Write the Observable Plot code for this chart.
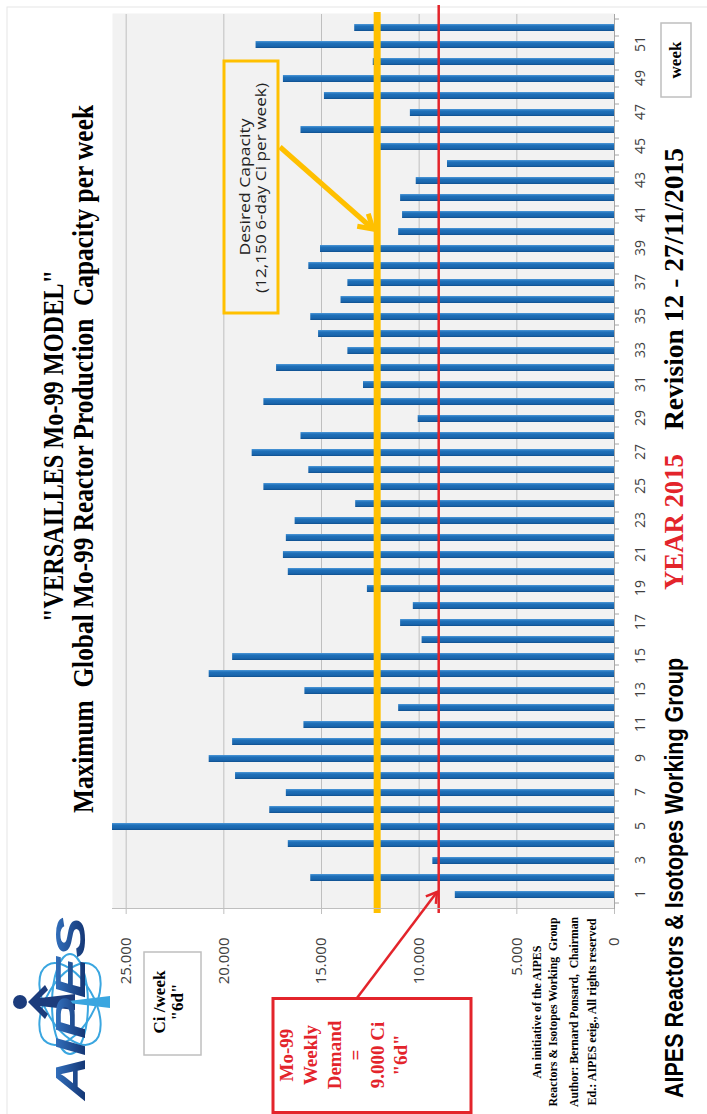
<!DOCTYPE html>
<html><head><meta charset="utf-8">
<script src="https://cdn.jsdelivr.net/npm/d3@7"></script>
<script src="https://cdn.jsdelivr.net/npm/@observablehq/plot@0.6"></script>
<style>
html,body{margin:0;padding:0;background:#fff;width:707px;height:1114px;overflow:hidden}
#wrap{position:absolute;left:0;top:0;width:1114px;height:707px;transform-origin:0 0;transform:translateY(1114px) rotate(-90deg)}
</style></head><body><div id="wrap"></div>
<script>
// ---- data ----
const weeks = d3.range(1, 53);
const capacity = [8150, 15550, 9300, 16700, 25700, 17650, 16800, 19400, 20750, 19550,
  15900, 11050, 15850, 20750, 19550, 9850, 10950, 10300, 12650, 16700,
  16950, 16800, 16350, 13250, 17950, 15650, 18550, 16050, 10050, 17950,
  12850, 17300, 13650, 15150, 15550, 14000, 13650, 15650, 15050, 11050,
  10850, 10950, 10150, 8550, 12250, 16050, 10450, 14850, 16950, 12350,
  18350, 13300];
const yTicks = [0, 5000, 10000, 15000, 20000, 25000];
const weekLabels = weeks.filter(w => w % 2 === 1);
const desiredCapacity = 12150;
const weeklyDemand = 9000;
const data = weeks.map((w, i) => ({week: w, value: capacity[i]}));

const fmt = d => d3.format(",")(d).replace(/,/g, ".");

const chart = Plot.plot({
  width: 1114, height: 707,
  marginLeft: 205, marginRight: 14, marginTop: 112, marginBottom: 93,
  style: {background: "transparent", fontFamily: "Open Sans"},
  x: {type: "band", domain: weeks, paddingInner: 0.6, paddingOuter: 0.3, axis: null},
  y: {domain: [0, 25700], axis: null},
  marks: [
    Plot.frame({fill: "#f2f2f2", stroke: "none"}),
    Plot.gridY(yTicks, {stroke: "#bfbfbf", strokeOpacity: 1, strokeWidth: 1, insetLeft: -5}),
    Plot.barY(data, {x: "week", y: "value", fill: "url(#barGrad)"}),
    Plot.ruleY([0], {stroke: "#a6a6a6", strokeWidth: 1}),
    Plot.ruleY([desiredCapacity], {stroke: "#FFC000", strokeWidth: 7, insetLeft: -4, insetRight: -2}),
    Plot.ruleY([weeklyDemand], {stroke: "#E3242B", strokeWidth: 2.5, insetLeft: -4, insetRight: -9}),
    Plot.axisY({ticks: yTicks, tickSize: 0, tickPadding: 29, tickFormat: fmt, fontSize: 15, fill: "#404040", label: null}),
    Plot.axisX({ticks: weekLabels, tickSize: 0, tickPadding: 21, fontSize: 14, fill: "#404040", label: null})
  ]
});
document.getElementById("wrap").appendChild(chart);

const svg = d3.select(chart);
const defs = svg.insert("defs", ":first-child");
const grad = defs.append("linearGradient").attr("id", "barGrad")
  .attr("x1", 0).attr("x2", 1).attr("y1", 0).attr("y2", 0);
[[0, "#0f4f8e"], [0.25, "#1a66ad"], [0.7, "#1f70b9"], [1, "#4d98d8"]].forEach(([o, c]) =>
  grad.append("stop").attr("offset", o).attr("stop-color", c));
const lg = defs.append("linearGradient").attr("id", "logoGrad")
  .attr("x1", 0).attr("x2", 0).attr("y1", 0).attr("y2", 1);
[[0, "#3a7fd0"], [1, "#0c2660"]].forEach(([o, c]) => lg.append("stop").attr("offset", o).attr("stop-color", c));

// outer faint frame
svg.insert("rect", ":first-child").attr("x", -5).attr("y", 7).attr("width", 1112).attr("height", 710)
  .attr("fill", "none").attr("stroke", "#e6e6e6");

// category axis tick marks at band boundaries
const xs = chart.scale("x");
const bw = xs.bandwidth, step = xs.step;
const yBase = 707 - 93;
const bounds = weeks.map(w => xs.apply(w) + bw / 2 - step / 2);
bounds.push(xs.apply(52) + bw / 2 + step / 2);
bounds.forEach(b => svg.append("line").attr("x1", b).attr("x2", b).attr("y1", yBase).attr("y2", yBase + 5)
  .attr("stroke", "#a6a6a6"));
// left border of plot
svg.append("line").attr("x1", 205.5).attr("x2", 205.5).attr("y1", 112).attr("y2", yBase)
  .attr("stroke", "#bfbfbf");

function txt(x, y, s, o = {}) {
  const t = svg.append("text").text(s)
    .attr("font-family", o.family || "Liberation Serif").attr("font-size", o.size || 12)
    .attr("font-weight", o.weight || "bold").attr("fill", o.fill || "#000")
    .attr("text-anchor", o.anchor || "middle");
  if (o.sy) t.attr("x", 0).attr("y", 0).attr("transform", `translate(${x},${y}) scale(1,${o.sy})`);
  else t.attr("x", x).attr("y", y);
  if (o.len) t.attr("textLength", o.len).attr("lengthAdjust", "spacingAndGlyphs");
  if (o.italic) t.attr("font-style", "italic");
  return t;
}
function arrow(x1, y1, x2, y2, color, w, head) {
  svg.append("line").attr("x1", x1).attr("y1", y1).attr("x2", x2).attr("y2", y2)
    .attr("stroke", color).attr("stroke-width", w);
  const a = Math.atan2(y2 - y1, x2 - x1);
  const p1 = [x2 - head * Math.cos(a - 0.55), y2 - head * Math.sin(a - 0.55)];
  const p2 = [x2 - head * Math.cos(a + 0.55), y2 - head * Math.sin(a + 0.55)];
  svg.append("path").attr("d", `M${p1}L${x2},${y2}L${p2}`).attr("fill", "none")
    .attr("stroke", color).attr("stroke-width", w).attr("stroke-linejoin", "miter");
}

// titles
txt(492, 63, "\"VERSAILLES Mo-99 MODEL\"", {size: 26, sy: 1.15, anchor: "start", len: 352});
txt(301, 93, "Maximum  Global Mo-99 Reactor Production  Capacity per week", {size: 25, sy: 1.2, anchor: "start", len: 708});

// bottom texts
txt(16, 683, "AIPES Reactors & Isotopes Working Group", {family: "Liberation Sans", size: 25, anchor: "start", len: 440});
txt(524, 683, "YEAR 2015", {size: 28, anchor: "start", len: 136, fill: "#E3242B"});
txt(684, 683, "Revision 12 - 27/11/2015", {size: 28, anchor: "start", len: 282});

// week box
svg.append("rect").attr("x", 1017).attr("y", 661).attr("width", 74).attr("height", 30)
  .attr("fill", "#fff").attr("stroke", "#bfbfbf").attr("stroke-width", 1.5);
txt(1054, 681, "week", {size: 17});

// Ci/week box
svg.append("rect").attr("x", 59).attr("y", 144).attr("width", 103).attr("height", 57)
  .attr("fill", "#fff").attr("stroke", "#bfbfbf").attr("stroke-width", 1.5);
txt(112, 165, "Ci /week", {size: 17});
txt(112, 183, "\"6d\"", {size: 17});

// footer
txt(102, 541, "An initiative of the AIPES", {size: 12, len: 133});
txt(102, 557, "Reactors & Isotopes Working  Group", {size: 12, len: 189});
txt(102, 578, "Author: Bernard Ponsard,  Chairman", {size: 12, len: 190});
txt(102, 596, "Ed.: AIPES eeig., All rights reserved", {size: 12, len: 187});

// red demand box
svg.append("rect").attr("x", 1.5).attr("y", 273).attr("width", 114).attr("height", 198)
  .attr("fill", "#fff").attr("stroke", "#E3242B").attr("stroke-width", 3);
const red = "#E3242B";
[["Mo-99", 293], ["Weekly", 317], ["Demand", 341], ["=", 362], ["9.000 Ci", 384], ["\"6d\"", 407]]
  .forEach(([s, y]) => txt(59, y, s, {size: 19, fill: red}));
arrow(116, 357, 222, 437, red, 2.5, 12);

// desired capacity box
svg.append("rect").attr("x", 801).attr("y", 224).attr("width", 252).attr("height", 54)
  .attr("fill", "none").attr("stroke", "#FFC000").attr("stroke-width", 3);
txt(927, 250, "Desired Capacity", {family: "Open Sans", weight: "normal", size: 15, fill: "#222", len: 137});
txt(926, 266, "(12,150 6-day Ci per week)", {family: "Open Sans", weight: "normal", size: 15, fill: "#222", len: 210});
arrow(967, 280, 885, 373, "#FFC000", 5, 16);

// logo
const logo = svg.append("g");
[[-30], [30], [0]].forEach(([r], i) => logo.append("ellipse")
  .attr("cx", 110).attr("cy", 70).attr("rx", i === 2 ? 50 : 45).attr("ry", i === 2 ? 18 : 24)
  .attr("transform", `rotate(${r},110,70)`).attr("fill", "none").attr("stroke", "#3aa6e0").attr("stroke-width", 2));
logo.append("path").attr("d", "M112,28 L95,45 L100,48 L108,40 L104,75 L120,75 L116,40 L124,48 L129,45 Z")
  .attr("fill", "#1c3c7c");
logo.append("circle").attr("cx", 112).attr("cy", 20).attr("r", 7).attr("fill", "#1c3c7c");
logo.append("path").attr("d", "M112,60 L106,110 L118,110 Z").attr("fill", "#3aa6e0");
txt(14, 85, "AIPES", {family: "Liberation Sans", size: 42, anchor: "start", len: 183, italic: true, fill: "url(#logoGrad)"});
</script></body></html>
